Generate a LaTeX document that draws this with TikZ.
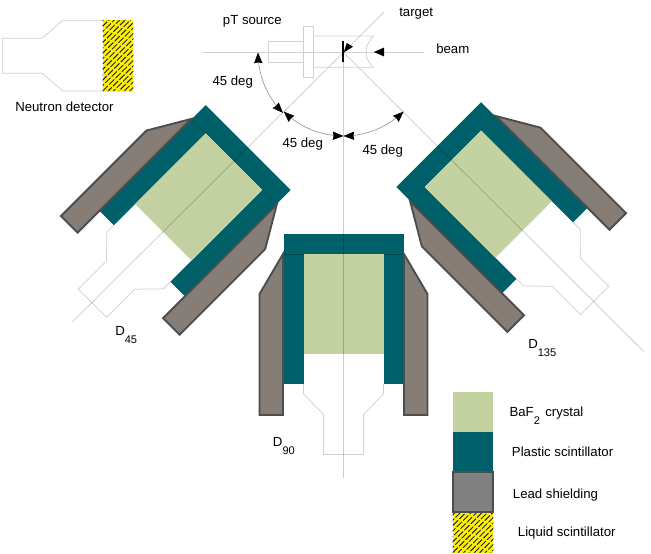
\documentclass[tikz,border=0pt]{standalone}
\usepackage{fontspec}
\setmainfont{Liberation Sans}
\usetikzlibrary{arrows.meta}
\definecolor{crystalc}{HTML}{C3D2A0}
\definecolor{plasticc}{HTML}{00606A}
\definecolor{leadc}{HTML}{857D76}
\definecolor{leadl}{HTML}{4D4D4D}
\definecolor{axisc}{HTML}{D0D0D0}
\definecolor{hatchy}{HTML}{FFF200}
\tikzset{
  axisline/.style={draw=black,draw opacity=.2,line width=.55pt},
  outlinegray/.style={draw=axisc,line width=.55pt},
  crystalbox/.style={fill=crystalc},
  plasticbox/.style={fill=plasticc},
  leadbox/.style={fill=leadc,draw=leadl,line width=1.4pt,line join=miter},
  lab/.style={anchor=base west,inner sep=0pt,font=\fontsize{9.9}{12}\selectfont},
  leglab/.style={anchor=base west,inner sep=0pt,font=\fontsize{9.9}{12}\selectfont},
  arcarrow/.style={draw=black!40,line width=.5pt},
  tip/.style={{Stealth[length=8pt,width=6.2pt,inset=.6pt,black]}-{Stealth[length=8pt,width=6.2pt,inset=.6pt,black]}},
}
\newcommand{\subs}[1]{\raisebox{-6pt}{\fontsize{8.3}{10}\selectfont #1}}
\newcommand{\hatchfill}[4]{%
  \fill[hatchy] (#1,#2) rectangle (#3,#4);
  \begin{scope}
    \clip (#1,#2) rectangle (#3,#4);
    \foreach \k in {-14,...,34}{
      \draw[black!85,line width=.7pt,dash pattern=on 5.5pt off 1.3pt,dash phase=\k*1.7pt]
        ({#1+5.4*\k},#4) -- ++(80,-80);
    }
  \end{scope}}
\newcommand{\detector}{%
  \fill[white] (-40,120) -- (-40,160) -- (-20,180.5) -- (-20,220.5) -- (20,220.5) -- (20,180.5) -- (40,160) -- (40,120) -- cycle;
  \path[plasticbox] (-60,0) -- (60,0) -- (60,20) -- (-60,20) -- cycle;
  \path[plasticbox] (-60,20) -- (-40,20) -- (-40,150) -- (-60,150) -- cycle;
  \path[plasticbox] (40,20) -- (60,20) -- (60,150) -- (40,150) -- cycle;
  \path[crystalbox] (-40,20) -- (40,20) -- (40,120) -- (-40,120) -- cycle;
  \draw[draw=black,draw opacity=.3,line width=.4pt] (-60,20) -- (-40,20) (40,20) -- (60,20);
  \draw[outlinegray] (-40,150) -- (-40,160) -- (-20,180.5) -- (-20,220.5) -- (20,220.5) -- (20,180.5) -- (40,160) -- (40,150);
  \draw[leadbox] (-60.5,20) -- (-84,60) -- (-84,181) -- (-60.5,181) -- cycle;
  \draw[leadbox] (60.5,20) -- (84,60) -- (84,181) -- (60.5,181) -- cycle;
}
\begin{document}
\begin{tikzpicture}[x=.75pt,y=-.75pt]
\useasboundingbox (0,0) rectangle (651,554);
\coordinate (T) at (343.5,52.5);
\coordinate (axA) at (384,12);
\coordinate (axB) at (72.7,321.7);
\coordinate (axC) at (644,351.7);
\coordinate (axD) at (343.5,477.5);
\coordinate (hL) at (203,52.3);
\coordinate (hR) at (423.7,52.3);

% neutron detector
\draw[outlinegray] (133,20.3) -- (62.7,20.3) -- (42.3,38.3) -- (2.3,38.3) -- (2.3,73.3) -- (42.3,73.3) -- (62.7,91) -- (133,91);
\hatchfill{102.7}{20}{133.3}{91}

% detectors
\begin{scope}[shift={(343.5,234)}]\detector\end{scope}
\begin{scope}[shift={(248.2,147.5)},x={(.53pt,-.53pt)},y={(-.53pt,-.53pt)}]\detector\end{scope}
\begin{scope}[shift={(438.8,144.6)},x={(.53pt,.53pt)},y={(.53pt,-.53pt)}]\detector\end{scope}

% axes
\draw[axisline] (axA) -- (axB);
\draw[axisline] (T) -- (axC);
\draw[axisline] (T) -- (axD);
\draw[outlinegray] (hL) -- (hR);

% source
\draw[outlinegray] (268.3,41.7) rectangle (303.3,62.3);
\draw[outlinegray] (303.3,26.3) rectangle (313.3,77.3);
\draw[outlinegray] (313.3,36) -- (373.3,36) .. controls (368,42) and (366,47) .. (366,52) .. controls (366,57) and (368,62) .. (373.3,67.3) -- (313.3,67.3);

% target and its arrows
\draw[black,line width=1.7pt] (343.3,41) -- (343.3,62.3);
\fill[black] (343.6,52.6) -- (346.8,43) -- (353,46.8) -- cycle;
\fill[black] (373.8,52) -- (384,47.6) -- (384,56.4) -- cycle;

% arcs
\draw[arcarrow,tip] plot[smooth,samples=12,domain=180:135] ({343.5+85.5*cos(\x)},{52.5+85.5*sin(\x)});
\draw[arcarrow,tip] plot[smooth,samples=12,domain=135:90] ({343.5+84.5*cos(\x)},{52.5+83.5*sin(\x)});
\draw[arcarrow,tip] plot[smooth,samples=12,domain=90:45] ({343.5+85*cos(\x)},{52.5+83.5*sin(\x)});

% labels
\node[lab] (l1) at (222.7,24) {pT source};
\node[lab] (l2) at (399,16.5) {target};
\node[lab] (l3) at (436,53) {beam};
\node[lab] (l4) at (212.3,85) {45 deg};
\node[lab] (l5) at (282.3,147) {45 deg};
\node[lab] (l6) at (362.3,154.7) {45 deg};
\node[lab] (l7) at (15,111.7) {Neutron detector};
\node[lab] (d1) at (115,335) {D\subs{45}};
\node[lab] (d2) at (528,348) {D\subs{135}};
\node[lab] (d3) at (272.7,446.7) {D\subs{90}};

% legend
\fill[crystalc] (452.7,391.7) rectangle (493.3,431.7);
\fill[plasticc] (452.7,431.7) rectangle (493.3,472.3);
\hatchfill{452.7}{512.3}{493.3}{552.7}
\draw[leadbox,fill=gray] (452.7,472.3) rectangle (493.3,512.3);
\node[leglab] (g1) at (509.3,416.7) {BaF\subs{2}};
\node[leglab] (g1b) at (545,416.7) {crystal};
\node[leglab] (g2) at (511.7,456.7) {Plastic scintillator};
\node[leglab] (g3) at (512.7,498.3) {Lead shielding};
\node[leglab] (g4) at (517.7,536.7) {Liquid scintillator};
\end{tikzpicture}
\end{document}
